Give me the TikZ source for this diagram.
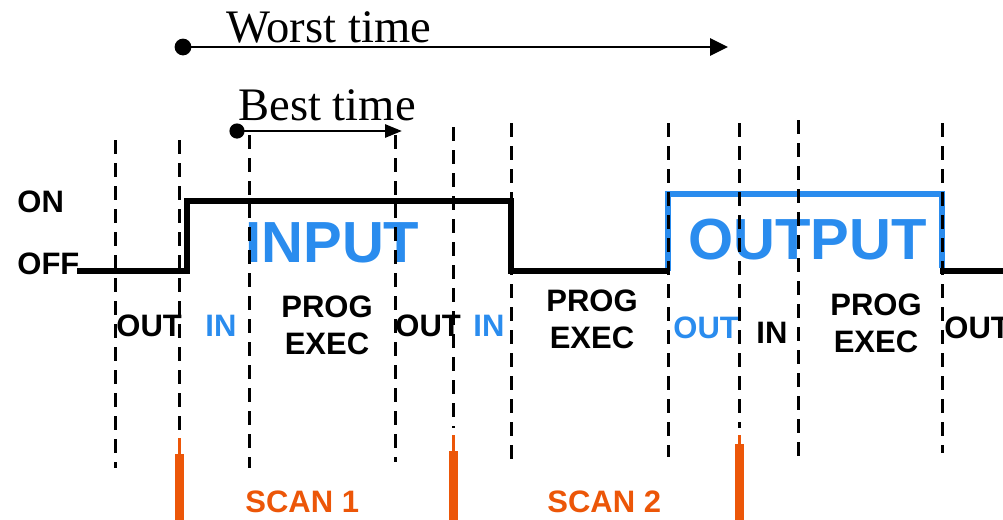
\documentclass[tikz,border=0pt]{standalone}
\usepackage{fontspec}
\setmainfont{Liberation Serif}
\setsansfont{Liberation Sans}
\usepackage{tikz}
\usetikzlibrary{arrows.meta}

\definecolor{plcblue}{RGB}{42,140,238}
\definecolor{plcorange}{RGB}{236,86,8}

\begin{document}
\begin{tikzpicture}[x=0.5pt,y=-0.5pt,
    lbl/.style={font=\sffamily\bfseries\fontsize{15.5}{18.5}\selectfont, inner sep=0pt},
    big/.style={font=\sffamily\bfseries\fontsize{29}{32}\selectfont, inner sep=0pt, text=plcblue},
    timetext/.style={font=\fontsize{23.3}{26}\selectfont, inner sep=0pt, anchor=base west},
    tick/.style={line width=1.5pt, dash pattern=on 7pt off 4.5pt},
    signal/.style={line width=2.6pt, line join=miter},
    scanbar/.style={fill=plcorange}]
    \useasboundingbox (0,0) rectangle (1003,520);

    \node (worst) [timetext] at (226,42) {Worst time};
    \node (best) [timetext] at (238,120) {Best time};
    \coordinate (worstA) at (183,47);
    \coordinate (worstB) at (728,47);
    \coordinate (bestA) at (237,131);
    \coordinate (bestB) at (402,131);
    \draw [-{Triangle[length=9pt,width=8.5pt]}, line width=1.4pt] (worstA) -- (worstB);
    \draw [-{Triangle[length=8.5pt,width=6.5pt]}, line width=1.4pt] (bestA) -- (bestB);
    \fill (worstA) circle (4.2pt);
    \fill (bestA) circle (3.8pt);

    \node (on) [lbl, anchor=base west] at (17,212) {ON};
    \node (off) [lbl, anchor=base west] at (17,274) {OFF};

    \node (input) [big, anchor=base west] at (245,262) {INPUT};
    \node (output) [big, anchor=base west] at (688,259) {OUTPUT};

    \node (out1) [lbl, anchor=base west] at (116,336) {OUT};
    \node (in1) [lbl, anchor=base west, text=plcblue] at (205,336) {IN};
    \node (prog1) [lbl, anchor=base, align=center] at (327,354) {PROG\\EXEC};
    \node (out2) [lbl, anchor=base west] at (395,336) {OUT};
    \node (in2) [lbl, anchor=base west, text=plcblue] at (473,336) {IN};
    \node (prog2) [lbl, anchor=base, align=center] at (592,348) {PROG\\EXEC};
    \node (out3) [lbl, anchor=base west, text=plcblue] at (673,338) {OUT};
    \node (in3) [lbl, anchor=base west] at (756,343) {IN};
    \node (prog3) [lbl, anchor=base, align=center] at (876,352) {PROG\\EXEC};
    \node (out4) [lbl, anchor=base west] at (944,338) {OUT};

    \node (scan1) [lbl, anchor=base west, text=plcorange] at (245,512) {SCAN 1};
    \node (scan2) [lbl, anchor=base west, text=plcorange] at (547,512) {SCAN 2};

    \draw [signal, plcblue] (668,271) -- (668,194) -- (942,194) -- (942,268);
    \draw [signal] (77,271) -- (187,271) -- (187,201) -- (511,201) -- (511,271) -- (668,271);
    \draw [signal] (940,271) -- (1003,271);

    \foreach \x/\t/\b in {115/140/468, 179/140/432, 249/135/468, 395/135/462, 453/127/428,
                          511/123/462, 668/123/457, 739/123/428, 798/120/457, 942/123/453}
        \draw [tick] (\x,\t) -- (\x,\b);

    \foreach \x/\t/\m in {179/438/454, 453/435/451, 739/435/444}
    {
        \fill [scanbar] (\x-1.5,\t) rectangle (\x+1.5,\m);
        \fill [scanbar] (\x-4.5,\m) rectangle (\x+4.5,520);
    }
\end{tikzpicture}
\end{document}
